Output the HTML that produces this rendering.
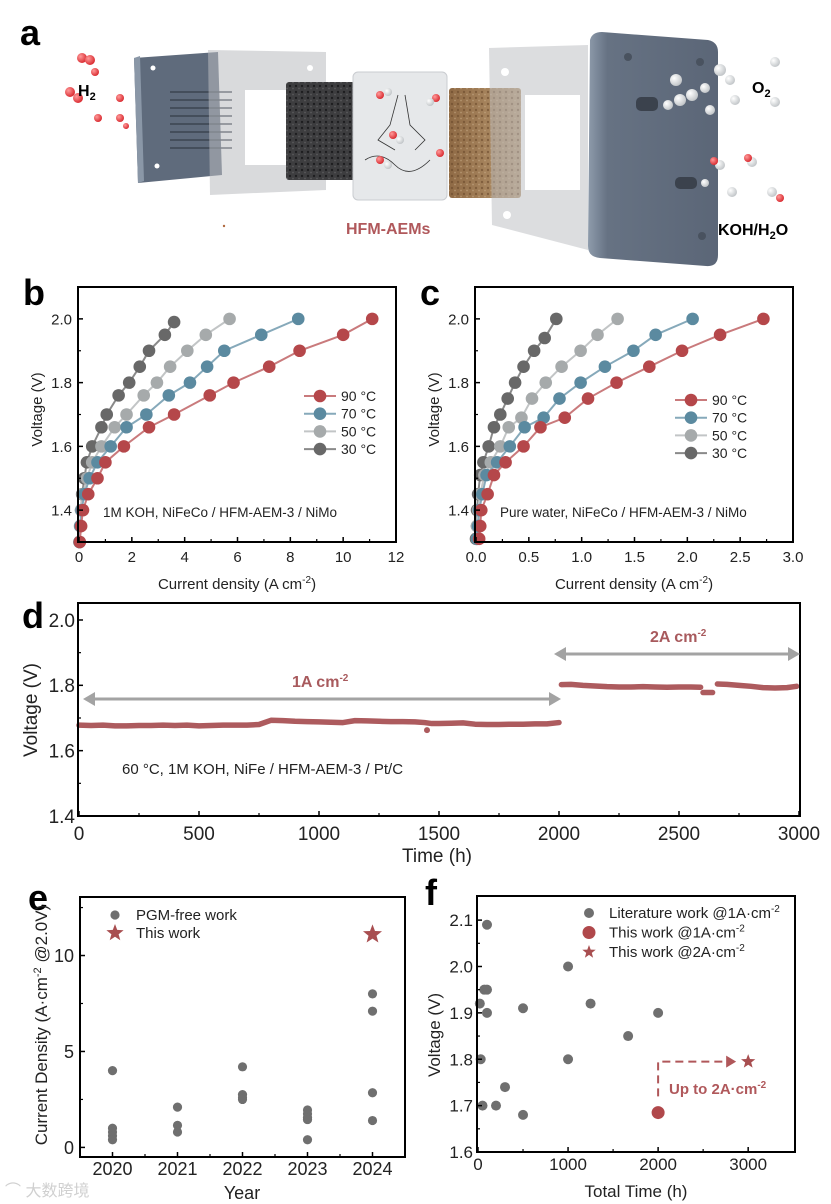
<!DOCTYPE html>
<html><head><meta charset="utf-8"><style>
html,body{margin:0;padding:0;background:#fff;}
svg{display:block;font-family:"Liberation Sans",Arial,sans-serif;}
.narrow text{font-family:"Liberation Sans Narrow","Liberation Sans",sans-serif;}
</style></head><body>
<svg id="fig" width="831" height="1204" viewBox="0 0 831 1204" xmlns="http://www.w3.org/2000/svg">
<defs>
<radialGradient id="gRed" cx="0.35" cy="0.35" r="0.7"><stop offset="0" stop-color="#ff9a9a"/><stop offset="1" stop-color="#d8262c"/></radialGradient>
<radialGradient id="gWhite" cx="0.35" cy="0.35" r="0.7"><stop offset="0" stop-color="#ffffff"/><stop offset="1" stop-color="#bfc3c6"/></radialGradient>
<linearGradient id="gPlate" x1="0" x2="1"><stop offset="0" stop-color="#8e9bab"/><stop offset="0.15" stop-color="#667283"/><stop offset="1" stop-color="#5b6677"/></linearGradient>
<linearGradient id="gBrown" x1="0" x2="1"><stop offset="0" stop-color="#8f6a45"/><stop offset="0.6" stop-color="#a8865f"/><stop offset="1" stop-color="#b89b78"/></linearGradient>
<pattern id="pFoam" width="6" height="6" patternUnits="userSpaceOnUse"><rect width="6" height="6" fill="#3d3d3f"/><circle cx="2" cy="2" r="1.2" fill="#1e1e20"/><circle cx="5" cy="4.5" r="0.9" fill="#5a5a5c"/></pattern>
<pattern id="pFoamB" width="6" height="6" patternUnits="userSpaceOnUse"><rect width="6" height="6" fill="none"/><circle cx="2" cy="2" r="1.2" fill="#6b4a2c" opacity="0.6"/><circle cx="5" cy="4.5" r="0.9" fill="#d0b592" opacity="0.5"/></pattern>
</defs>

<g>
  <text x="20" y="45" font-size="36" font-weight="bold">a</text>
  <polygon points="134,58 218,52 222,175 138,183" fill="#5f6b7c"/>
  <polygon points="134,58 140,56 144,181 138,183" fill="#8a97a7"/>
  <g stroke="#3c4450" stroke-width="1.5" fill="none">
    <path d="M170,92 H232 M170,100 H232 M170,108 H232 M170,116 H232 M170,124 H232 M170,132 H232 M170,140 H232 M170,148 H232"/>
  </g>
  <circle cx="153" cy="68" r="2.5" fill="#fff"/><circle cx="157" cy="166" r="2.5" fill="#fff"/>
  <path d="M208,50 L326,52 L326,190 L210,195 Z M245,90 L300,90 L300,165 L245,165 Z" fill="#b9bcc0" fill-opacity="0.55" fill-rule="evenodd"/>
  <circle cx="310" cy="68" r="3" fill="#fff"/>
  <rect x="286" y="82" width="70" height="98" rx="3" fill="url(#pFoam)"/>
  <rect x="353" y="72" width="94" height="128" rx="5" fill="#e6e8ea" stroke="#c9ccd0"/>
  <path d="M398,95 L390,125 L378,140 L395,150 M405,95 L410,125 L425,140 L415,150 M365,160 Q380,150 395,165 T430,160" stroke="#333" stroke-width="0.8" fill="none"/>
  <rect x="449" y="88" width="72" height="110" rx="3" fill="url(#gBrown)"/>
  <rect x="449" y="88" width="72" height="110" rx="3" fill="url(#pFoamB)"/>
  <path d="M489,48 L588,45 L588,250 L492,225 Z M525,95 L580,95 L580,190 L525,190 Z" fill="#b9bcc0" fill-opacity="0.5" fill-rule="evenodd"/>
  <circle cx="505" cy="72" r="4" fill="#fff"/><circle cx="507" cy="215" r="4" fill="#fff"/>
  <path d="M590,40 Q592,32 602,32 L708,40 Q718,42 718,52 L718,255 Q718,267 706,266 L600,258 Q588,257 588,246 Z" fill="url(#gPlate)"/>
  <circle cx="628" cy="57" r="4" fill="#49525f"/><circle cx="702" cy="236" r="4" fill="#49525f"/><circle cx="700" cy="62" r="4" fill="#49525f"/>
  <rect x="636" y="97" width="22" height="14" rx="5" fill="#3b424d"/>
  <rect x="675" y="177" width="22" height="12" rx="5" fill="#3b424d"/>
  <g>
    <circle cx="82" cy="58" r="5" fill="url(#gRed)"/><circle cx="90" cy="60" r="5" fill="url(#gRed)"/>
    <circle cx="95" cy="72" r="4" fill="url(#gRed)"/><circle cx="70" cy="92" r="5" fill="url(#gRed)"/>
    <circle cx="78" cy="98" r="5" fill="url(#gRed)"/><circle cx="120" cy="98" r="4" fill="url(#gRed)"/>
    <circle cx="98" cy="118" r="4" fill="url(#gRed)"/><circle cx="120" cy="118" r="4" fill="url(#gRed)"/>
    <circle cx="126" cy="126" r="3" fill="url(#gRed)"/>
  </g>
  <g>
    <circle cx="380" cy="95" r="4" fill="url(#gRed)"/><circle cx="388" cy="92" r="4" fill="url(#gWhite)"/>
    <circle cx="436" cy="98" r="4" fill="url(#gRed)"/><circle cx="430" cy="102" r="4" fill="url(#gWhite)"/>
    <circle cx="393" cy="135" r="4" fill="url(#gRed)"/><circle cx="400" cy="140" r="4" fill="url(#gWhite)"/>
    <circle cx="388" cy="165" r="4" fill="url(#gWhite)"/><circle cx="380" cy="160" r="4" fill="url(#gRed)"/>
    <circle cx="440" cy="153" r="4" fill="url(#gRed)"/>
  </g>
  <g>
    <circle cx="676" cy="80" r="6" fill="url(#gWhite)"/><circle cx="720" cy="70" r="6" fill="url(#gWhite)"/>
    <circle cx="730" cy="80" r="5" fill="url(#gWhite)"/><circle cx="680" cy="100" r="6" fill="url(#gWhite)"/>
    <circle cx="692" cy="95" r="6" fill="url(#gWhite)"/><circle cx="705" cy="88" r="5" fill="url(#gWhite)"/>
    <circle cx="668" cy="105" r="5" fill="url(#gWhite)"/><circle cx="735" cy="100" r="5" fill="url(#gWhite)"/>
    <circle cx="775" cy="62" r="5" fill="url(#gWhite)"/><circle cx="775" cy="102" r="5" fill="url(#gWhite)"/>
    <circle cx="710" cy="110" r="5" fill="url(#gWhite)"/>
  </g>
  <g>
    <circle cx="720" cy="165" r="5" fill="url(#gWhite)"/><circle cx="714" cy="161" r="4" fill="url(#gRed)"/>
    <circle cx="752" cy="162" r="5" fill="url(#gWhite)"/><circle cx="748" cy="158" r="4" fill="url(#gRed)"/>
    <circle cx="732" cy="192" r="5" fill="url(#gWhite)"/><circle cx="772" cy="192" r="5" fill="url(#gWhite)"/>
    <circle cx="780" cy="198" r="4" fill="url(#gRed)"/><circle cx="705" cy="183" r="4" fill="url(#gWhite)"/>
  </g>
  <text x="78" y="96" font-size="16" font-weight="bold">H<tspan font-size="11" dy="4">2</tspan></text>
  <text x="752" y="93" font-size="16" font-weight="bold">O<tspan font-size="11" dy="4">2</tspan></text>
  <text x="718" y="235" font-size="16" font-weight="bold">KOH/H<tspan font-size="11" dy="4">2</tspan><tspan dy="-4">O</tspan></text>
  <text x="346" y="234" font-size="16" font-weight="bold" fill="#b0585b">HFM-AEMs</text>
  <circle cx="224" cy="226" r="1.2" fill="#b06a40"/>
</g>

<g id="charts"></g>
</svg>
<script>
const bSeriesNames = ["90 °C","70 °C","50 °C","30 °C"];
const b90x = [11.1,10.0,8.35,7.2,5.85,4.95,3.6,2.65,1.7,1.0,0.7,0.35,0.15,0.08,0.03];
const b70x = [8.3,6.9,5.5,4.85,4.2,3.4,2.55,1.8,1.2,0.7,0.4,0.2,0.1,0.05,0.02];
const b50x = [5.7,4.8,4.1,3.45,2.95,2.45,1.8,1.35,0.85,0.5,0.3,0.15,0.08,0.04,0.02];
const b30x = [3.6,3.25,2.65,2.3,1.9,1.5,1.05,0.85,0.5,0.3,0.2,0.12,0.08,0.05,0.02];
const bVolt = [2.0,1.95,1.9,1.85,1.8,1.76,1.7,1.66,1.6,1.55,1.5,1.45,1.4,1.35,1.3];
const b30v = [1.99,1.95,1.9,1.85,1.8,1.76,1.7,1.66,1.6,1.55,1.5,1.45,1.4,1.35,1.3];
const bXTicks = [0,2,4,6,8,10,12];
const bYTicks = [1.4,1.6,1.8,2.0];
const c90x = [2.72,2.31,1.95,1.64,1.33,1.06,0.84,0.61,0.45,0.28,0.17,0.11,0.05,0.04,0.03];
const c70x = [2.05,1.7,1.49,1.22,0.99,0.79,0.64,0.46,0.32,0.2,0.1,0.06,0.03,0.02,0.01];
const c50x = [1.34,1.15,0.99,0.81,0.66,0.53,0.43,0.31,0.23,0.14,0.08,0.04,0.02,0.01,0.01];
const c30x = [0.76,0.65,0.55,0.45,0.37,0.3,0.23,0.17,0.12,0.07,0.04,0.02,0.01,0.01,0.0];
const cVolt = [2.0,1.95,1.9,1.85,1.8,1.75,1.69,1.66,1.6,1.55,1.51,1.45,1.4,1.35,1.31];
const c30v = [2.0,1.94,1.9,1.85,1.8,1.75,1.7,1.66,1.6,1.55,1.51,1.45,1.4,1.35,1.31];
const cXTicks = [0.0,0.5,1.0,1.5,2.0,2.5,3.0];
const cXTickLabels = ["0.0","0.5","1.0","1.5","2.0","2.5","3.0"];
const dTime = [0,50,100,150,200,250,300,350,400,450,500,550,600,650,700,750,800,850,900,950,1000,1050,1100,1150,1200,1250,1300,1350,1400,1440,1470,1500,1550,1600,1650,1700,1750,1800,1850,1900,1950,2000,null,2010,2050,2100,2150,2200,2250,2300,2350,2400,2450,2500,2550,2590,null,2600,2640,null,2660,2700,2750,2800,2850,2900,2950,2990];
const dVolt = [1.678,1.677,1.678,1.676,1.676,1.677,1.677,1.678,1.677,1.678,1.676,1.677,1.678,1.678,1.678,1.680,1.693,1.692,1.690,1.689,1.688,1.687,1.686,1.692,1.691,1.690,1.689,1.689,1.688,1.686,1.683,1.683,1.684,1.685,1.681,1.680,1.680,1.681,1.681,1.682,1.682,1.686,null,1.802,1.803,1.800,1.798,1.796,1.795,1.795,1.796,1.795,1.794,1.795,1.795,1.794,null,1.778,1.778,null,1.804,1.803,1.800,1.797,1.793,1.792,1.793,1.797];
const dOutlierT = [1450];
const dOutlierV = [1.663];
const dXTicks = [0,500,1000,1500,2000,2500,3000];
const dYTicks = [1.4,1.6,1.8,2.0];
const eYears = [2020,2020,2020,2020,2020,2021,2021,2021,2022,2022,2022,2022,2023,2023,2023,2023,2023,2024,2024,2024,2024];
const eDens = [4.0,1.0,0.8,0.6,0.4,2.1,1.15,0.8,4.2,2.75,2.6,2.5,1.95,1.75,1.55,1.45,0.4,8.0,7.1,2.85,1.4];
const eThisYear = [2024];
const eThisDens = [11.1];
const eXTicks = [2020,2021,2022,2023,2024];
const eYTicks = [0,5,10];
const fLitTime = [20,30,50,70,100,100,100,200,300,500,500,1000,1000,1250,1667,2000];
const fLitVolt = [1.92,1.80,1.70,1.95,1.95,2.09,1.90,1.70,1.74,1.91,1.68,2.00,1.80,1.92,1.85,1.90];
const fThis1T = [2000];
const fThis1V = [1.685];
const fThis2T = [3000];
const fThis2V = [1.795];
const fXTicks = [0,1000,2000,3000];
const fYTicks = [1.6,1.7,1.8,1.9,2.0,2.1];
const fYTickLabels = ["1.6","1.7","1.8","1.9","2.0","2.1"];

const NS = "http://www.w3.org/2000/svg";
const root = document.getElementById('charts');
function mk(tag, attrs, parent){
  const e = document.createElementNS(NS, tag);
  for (const k in attrs) e.setAttribute(k, attrs[k]);
  (parent||root).appendChild(e);
  return e;
}
function scale(d0,d1,p0,p1){ return v => p0 + (v-d0)/(d1-d0)*(p1-p0); }

function frame(g, L, T, R, B, sx, sy, xt, xl, yt, yl, xMinor, yMinor, fs, xlabY, ylabX){
  const box = mk('rect',{x:L,y:T,width:R-L,height:B-T,fill:'none',stroke:'#000','stroke-width':2},g);
  
  
  xt.forEach((v,i)=>{
    const x = sx(v);
    mk('line',{x1:x,x2:x,y1:B,y2:B-5,stroke:'#000','stroke-width':1.5},g);
    const t = mk('text',{x:x,y:xlabY,'font-size':fs,'text-anchor':'middle',fill:'#222'},g);
    t.textContent = xl[i];
    
    
  });
  xMinor.forEach(v=>{ const x=sx(v); mk('line',{x1:x,x2:x,y1:B,y2:B-3,stroke:'#000','stroke-width':1.2},g); });
  yt.forEach((v,i)=>{
    const y = sy(v);
    mk('line',{x1:L,x2:L+5,y1:y,y2:y,stroke:'#000','stroke-width':1.5},g);
    const t = mk('text',{x:ylabX,y:y+fs*0.36,'font-size':fs,'text-anchor':'end',fill:'#222'},g);
    t.textContent = yl[i];
    
    
  });
  yMinor.forEach(v=>{ const y=sy(v); mk('line',{x1:L,x2:L+3,y1:y,y2:y,stroke:'#000','stroke-width':1.2},g); });
}
function label(g, txt, x, y, size, opts){
  const t = mk('text',Object.assign({x:x,y:y,'font-size':size,fill:'#222'},opts||{}),g);
  t.innerHTML = txt;
  return t;
}

const colors = ["#b5474a","#5b8aa0","#a6aaab","#686868"];
const lineColors = ["#c97a7c","#86a9ba","#c2c5c6","#8a8a8a"];
function polPanel(name, letter, L, R, xmax, xs, vs, xt, xl, xMinor, note, legX, legY){
  const g = mk('g',{});
  
  
  const T=287,B=542;
  const sx = scale(0,xmax,L+1,R);
  const sy = scale(1.3,2.1,B,T);
  const pl = label(g, letter, L-55, T+18, 36, {'font-weight':'bold',fill:'#000'});
  
  
  for (let s=3;s>=0;s--){
    const pts = xs[s].map((x,i)=>sx(x)+','+sy(vs[s][i])).join(' ');
    const ln = mk('polyline',{points:pts,fill:'none',stroke:lineColors[s],'stroke-width':2},g);
    
    
    xs[s].forEach((x,i)=>{
      const c = mk('circle',{cx:sx(x),cy:sy(vs[s][i]),r:6.3,fill:colors[s]},g);
      
      
    });
  }
  frame(g,L,T,R,B,sx,sy,xt,xl,bYTicks,bYTicks.map(v=>v.toFixed(1)),xMinor,[1.5,1.7,1.9],15,562,L-6);
  const xtt = label(g,'Current density (A cm<tspan font-size="10" dy="-6">-2</tspan><tspan dy="6">)</tspan>',(L+R)/2,589,15,{'text-anchor':'middle'});
  
  
  const ytt = label(g,'Voltage (V)',0,0,15,{'text-anchor':'middle',transform:`translate(${L-36},${(T+B)/2-5}) rotate(-90)`});
  
  
  const nt = label(g,note,L+25,T+230,13.5,{});
  
  
  bSeriesNames.forEach((n,i)=>{
    const y = legY + i*17.7;
    const le = mk('g',{},g);
    
    
    mk('line',{x1:legX,x2:legX+32,y1:y,y2:y,stroke:lineColors[i],'stroke-width':2},le);
    mk('circle',{cx:legX+16,cy:y,r:6.3,fill:colors[i]},le);
    label(le,n,legX+37,y+5,14,{});
  });
}
polPanel('panel-b-chart','b',78,396,12,[b90x,b70x,b50x,b30x],[bVolt,bVolt,bVolt,b30v],bXTicks,bXTicks.map(String),[1,3,5,7,9,11],'1M KOH, NiFeCo / HFM-AEM-3 / NiMo',304,396);
polPanel('panel-c-chart','c',475,793,3,[c90x,c70x,c50x,c30x],[cVolt,cVolt,cVolt,c30v],cXTicks,cXTickLabels,[0.25,0.75,1.25,1.75,2.25,2.75],'Pure water, NiFeCo / HFM-AEM-3 / NiMo',675,400);

(function(){
  const g = mk('g',{class:'narrow'});
  
  
  const L=78,R=800,T=603,B=816;
  const sx = scale(0,3000,L+1,R-1);
  const sy = scale(1.4,2.052,B,T);
  const pl = label(g,'d',22,628,36,{'font-weight':'bold',fill:'#000',style:'font-family:Liberation Sans'});
  
  
  let seg=[];
  const segs=[];
  dTime.forEach((t,i)=>{ if(t===null){ if(seg.length) segs.push(seg); seg=[]; } else seg.push(sx(t)+','+sy(dVolt[i])); });
  if(seg.length) segs.push(seg);
  segs.forEach(s=>{
    const p = mk('polyline',{points:s.join(' '),fill:'none',stroke:'#ad5b5e','stroke-width':5.5,'stroke-linecap':'round','stroke-linejoin':'round'},g);
    
    
  });
  dOutlierT.forEach((t,i)=>{
    const c = mk('circle',{cx:sx(t),cy:sy(dOutlierV[i]),r:3,fill:'#ad5b5e'},g);
    
    
  });
  frame(g,L,T,R,B,sx,sy,dXTicks,dXTicks.map(String),dYTicks,dYTicks.map(v=>v.toFixed(1)),[250,750,1250,1750,2250,2750],[1.5,1.7,1.9],19,840,L-3);
  function dblArrow(x1,x2,y,name){
    const a = mk('g',{},g);
    
    
    mk('line',{x1:x1+8,x2:x2-8,y1:y,y2:y,stroke:'#a3a3a3','stroke-width':3},a);
    mk('polygon',{points:`${x1},${y} ${x1+12},${y-7} ${x1+12},${y+7}`,fill:'#a3a3a3'},a);
    mk('polygon',{points:`${x2},${y} ${x2-12},${y-7} ${x2-12},${y+7}`,fill:'#a3a3a3'},a);
  }
  dblArrow(83,561,699,'arrow-1a-period');
  dblArrow(554,800,654,'arrow-2a-period');
  const l1 = label(g,'1A cm<tspan font-size="10" dy="-6">-2</tspan>',292,687,16,{'font-weight':'bold',fill:'#a85a5d'});
  
  
  const l2 = label(g,'2A cm<tspan font-size="10" dy="-6">-2</tspan>',650,642,16,{'font-weight':'bold',fill:'#a85a5d'});
  
  
  const nt = label(g,'60 °C, 1M KOH, NiFe / HFM-AEM-3 / Pt/C',122,774,15,{});
  
  
  const xtt = label(g,'Time (h)',437,862,19,{'text-anchor':'middle'});
  
  
  const ytt = label(g,'Voltage (V)',0,0,19,{'text-anchor':'middle',transform:`translate(37,710) rotate(-90)`});
  
  
})();

function star(g,cx,cy,r,fill){
  let pts=[];
  for(let k=0;k<10;k++){ const a=-Math.PI/2+k*Math.PI/5; const rr=k%2?r*0.42:r; pts.push((cx+rr*Math.cos(a)).toFixed(1)+','+(cy+rr*Math.sin(a)).toFixed(1)); }
  return mk('polygon',{points:pts.join(' '),fill:fill},g);
}

(function(){
  const g = mk('g',{class:'narrow'});
  
  
  const L=80,R=405,T=897,B=1157;
  const sx = scale(2019.5,2024.5,L,R);
  const sy = scale(-0.5,13.05,B,T);
  const pl = label(g,'e',28,910,36,{'font-weight':'bold',fill:'#000',style:'font-family:Liberation Sans'});
  
  
  eYears.forEach((y,i)=>{
    const c = mk('circle',{cx:sx(y),cy:sy(eDens[i]),r:4.6,fill:'#6f6f6f'},g);
    
    
  });
  eThisYear.forEach((y,i)=>{
    const s = star(g,sx(y),sy(eThisDens[i]),10,'#a84e50');
    
    
  });
  frame(g,L,T,R,B,sx,sy,eXTicks,eXTicks.map(String),eYTicks,eYTicks.map(String),[2020.5,2021.5,2022.5,2023.5],[2.5,7.5,12.5],18,1175,L-6);
  const le1 = mk('g',{},g);
  
  
  mk('circle',{cx:115,cy:915,r:4.6,fill:'#6f6f6f'},le1);
  label(le1,'PGM-free work',136,920,15,{});
  const le2 = mk('g',{},g);
  
  
  star(le2,115,933,9,'#a84e50');
  label(le2,'This work',136,938,15,{});
  const xtt = label(g,'Year',242,1199,18,{'text-anchor':'middle'});
  
  
  const ytt = label(g,'Current Density (A·cm<tspan font-size="11" dy="-6">-2</tspan><tspan dy="6"> @2.0V)</tspan>',0,0,17,{'text-anchor':'middle',transform:`translate(47,1025) rotate(-90)`});
  
  
  const wm = label(g,'⌒ 大数跨境',5,1196,16,{fill:'#d0d0d0'});
  
  
})();

(function(){
  const g = mk('g',{class:'narrow'});
  
  
  const L=477,R=795,T=896,B=1152;
  const sx = scale(0,3520,L+1,R);
  const sy = scale(1.6,2.152,B,T);
  const pl = label(g,'f',425,905,36,{'font-weight':'bold',fill:'#000',style:'font-family:Liberation Sans'});
  
  
  fLitTime.forEach((t,i)=>{
    const c = mk('circle',{cx:sx(t),cy:sy(fLitVolt[i]),r:5,fill:'#6f6f6f'},g);
    
    
  });
  const x1 = sx(fThis1T[0]), yA = sy(1.72), yB = sy(fThis2V[0]), x2 = sx(fThis2T[0]) - 22;
  const dg = mk('path',{d:`M${x1},${yA} V${yB} H${x2}`,fill:'none',stroke:'#b0575a','stroke-width':2,'stroke-dasharray':'8,5'},g);
  
  
  mk('polygon',{points:`${x2+10},${yB} ${x2},${yB-6} ${x2},${yB+6}`,fill:'#b0575a'},g);
  fThis1T.forEach((t,i)=>{
    const c = mk('circle',{cx:sx(t),cy:sy(fThis1V[i]),r:6.5,fill:'#b0484b'},g);
    
    
  });
  fThis2T.forEach((t,i)=>{
    const s = star(g,sx(t),sy(fThis2V[i]),7.5,'#a84e50');
    
    
  });
  frame(g,L,T,R,B,sx,sy,fXTicks,fXTicks.map(String),fYTicks,fYTickLabels,[500,1500,2500],[1.65,1.75,1.85,1.95,2.05],17,1170,L-4);
  const up = label(g,'Up to 2A·cm<tspan font-size="10" dy="-6">-2</tspan>',669,1094,15,{'font-weight':'bold',fill:'#b0585b'});
  
  
  const leg = [["Literature work @1A·cm","circle","#6f6f6f",5],["This work @1A·cm","circle","#b0484b",6.5],["This work @2A·cm","star","#a84e50",7]];
  leg.forEach((e,i)=>{
    const y = 913 + i*19.5;
    const le = mk('g',{},g);
    
    
    if(e[1]==='circle') mk('circle',{cx:589,cy:y,r:e[3],fill:e[2]},le); else star(le,589,y,e[3],e[2]);
    label(le,e[0]+'<tspan font-size="10" dy="-6">-2</tspan>',609,y+5,15,{});
  });
  const xtt = label(g,'Total Time (h)',636,1197,17,{'text-anchor':'middle'});
  
  
  const ytt = label(g,'Voltage (V)',0,0,17,{'text-anchor':'middle',transform:`translate(440,1035) rotate(-90)`});
  
  
})();
</script>
</body></html>
